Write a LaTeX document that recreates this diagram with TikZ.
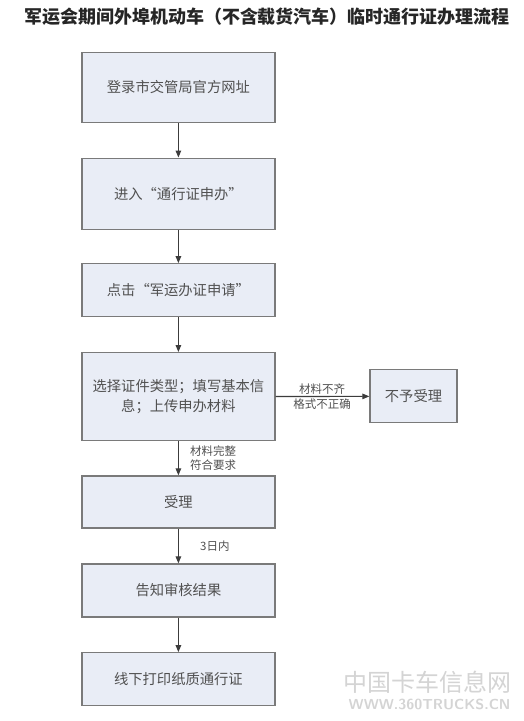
\documentclass[tikz,border=0pt]{standalone}
\usepackage{fontspec}
\usepackage{tikz}
\usetikzlibrary{arrows.meta,positioning}
\newfontfamily\cjk{Noto Sans CJK SC}
\definecolor{kutuDolgu}{HTML}{E9EDF6}
\definecolor{kutuCizgi}{HTML}{7A7A7A}
\definecolor{yaziGri}{HTML}{505050}
\definecolor{okGri}{HTML}{3C3C3C}
\definecolor{filigran}{HTML}{D4D4D4}
\tikzset{
  adim/.style={draw=kutuCizgi,fill=kutuDolgu,line width=1.3pt,text=yaziGri,
    minimum width=193pt,inner sep=0pt,align=center,
    font=\cjk\fontsize{14.3}{20}\selectfont},
  ok/.style={okGri,line width=1.1pt,-{Triangle[length=7pt,width=5.5pt]}},
  etiket/.style={text=yaziGri,inner sep=0pt,align=center,
    font=\cjk\fontsize{11.5}{14}\selectfont}
}
\begin{document}
\begin{tikzpicture}[x=1pt,y=-1pt]
\useasboundingbox[fill=white] (0,0) rectangle (523,721);
\node[font=\cjk\bfseries\fontsize{18}{20}\selectfont,text=black!85] (baslik) at (267,17) {军运会期间外埠机动车（不含载货汽车）临时通行证办理流程};
% ana akis
\node[adim,minimum height=70pt] (giris) at (178.4,87.5) {登录市交管局官方网址};
\node[adim,minimum height=71pt] (basvuru) at (178.4,193.7) {进入“通行证申办”};
\node[adim,minimum height=53pt] (tikla) at (178.4,290.3) {点击“军运办证申请”};
\node[adim,minimum height=88pt] (sec) at (178.4,396.7) {选择证件类型；填写基本信\\息；上传申办材料};
\node[adim,minimum height=52pt] (kabul) at (178.4,502) {受理};
\node[adim,minimum height=53pt] (sonuc) at (178.4,590.5) {告知审核结果};
\node[adim,minimum height=53pt] (yazdir) at (178.4,679.3) {线下打印纸质通行证};
\node[adim,minimum width=87pt,minimum height=53pt] (red) at (413.5,396.3) {不予受理};
\draw[ok] (giris) -- (basvuru);
\draw[ok] (basvuru) -- (tikla);
\draw[ok] (tikla) -- (sec);
\draw[ok] (sec) -- (kabul);
\draw[ok] (kabul) -- (sonuc);
\draw[ok] (sonuc) -- (yazdir);
\draw[ok] (sec) -- (red);
% etiketler
\node[etiket] (eksik) at (322,389) {材料不齐};
\node[etiket] (format) at (322,404.5) {格式不正确};
\node[etiket,anchor=west] (tamam) at (190,458.5) {材料完整\\符合要求};
\node[etiket,anchor=west] (gun) at (200,546.5) {3日内};
% filigran
\node[text=filigran,font=\cjk\fontsize{24}{26}\selectfont,anchor=east] (fad) at (515,682) {中国卡车信息网};
\node[text=filigran,font=\sffamily\bfseries\fontsize{14.5}{16}\selectfont,anchor=east] (fweb) at (514,704) {WWW.360TRUCKS.CN};
\end{tikzpicture}
\end{document}
